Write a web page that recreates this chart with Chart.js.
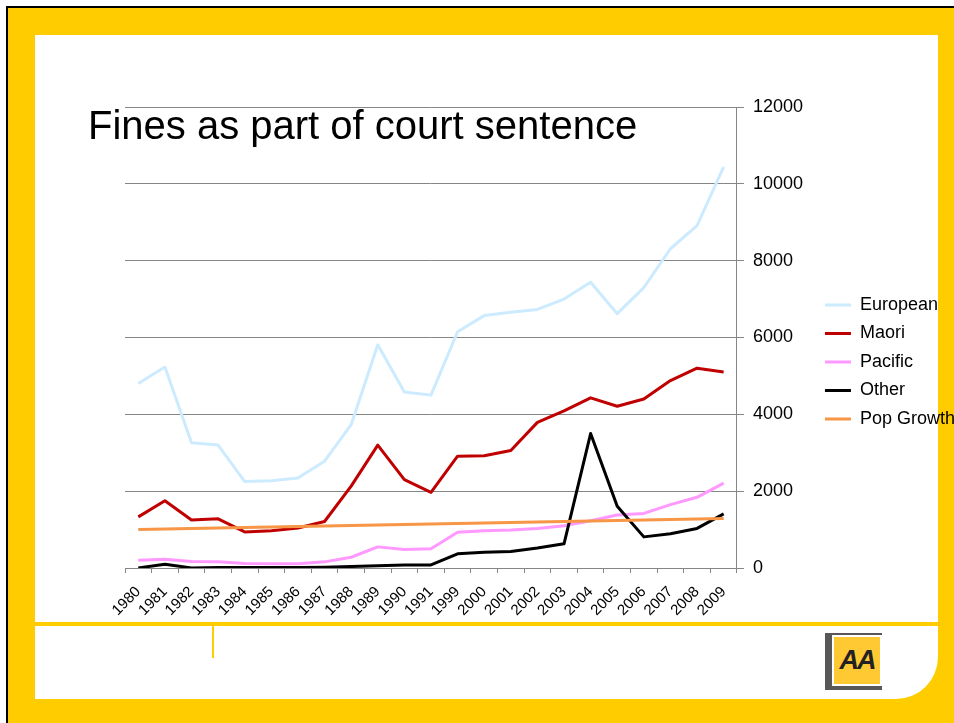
<!DOCTYPE html>
<html>
<head>
<meta charset="utf-8">
<script src="https://cdn.jsdelivr.net/npm/chart.js@4.4.1/dist/chart.umd.min.js"></script>
<style>
  html, body { margin: 0; padding: 0; background: #fff; overflow: hidden; width: 954px; height: 723px; }
  .frame { position: absolute; left: 6px; top: 6px; width: 960px; height: 730px; background: #FFCC00;
           border-left: 2px solid #000; border-top: 2px solid #000; }
  .panel { position: absolute; left: 35px; top: 35px; width: 903px; height: 664px; background: #fff;
           border-bottom-right-radius: 42px; }
  .sep { position: absolute; left: 35px; top: 622px; width: 903px; height: 4px; background: #FFCC00; }
  .tick { position: absolute; left: 212px; top: 626px; width: 2px; height: 32px; background: #FFCC00; }
  .logo { position: absolute; left: 825px; top: 633px; width: 57px; height: 57px; background: #58585a; }
  .logo div { position: absolute; left: 7px; top: 2px; width: 46px; height: 47px; background: #FFC933;
              border: 2px solid #fff; font: italic bold 27px "Liberation Sans", Arial, sans-serif;
              color: #222; text-align: center; line-height: 47px; letter-spacing: -2px; }
  .title { position: absolute; left: 88px; top: 105px; font: 40px/1 "Liberation Sans", Arial, sans-serif;
           color: #000; white-space: nowrap; z-index: 2; }
  canvas { position: absolute; left: 0; top: 0; z-index: 1; }
</style>
</head>
<body>
<div class="frame"></div>
<div class="panel"></div>
<div class="sep"></div>
<div class="tick"></div>
<div class="logo"><div>AA</div></div>
<canvas id="finesChart" width="965" height="723"></canvas>
<div class="title">Fines as part of court sentence</div>

<script>
const years = ['1980', '1981', '1982', '1983', '1984', '1985', '1986', '1987', '1988', '1989', '1990', '1991',
               '1999', '2000', '2001', '2002', '2003', '2004', '2005', '2006', '2007', '2008', '2009'];

const european = [4800, 5230, 3260, 3200, 2250, 2270, 2340, 2780, 3730, 5810, 4580, 4500,
                  6150, 6570, 6660, 6730, 7000, 7440, 6620, 7300, 8310, 8910, 10440];
const maori = [1330, 1750, 1250, 1280, 940, 970, 1040, 1210, 2130, 3200, 2300, 1970,
               2910, 2920, 3060, 3790, 4090, 4430, 4210, 4400, 4880, 5200, 5100];
const pacific = [200, 230, 170, 160, 120, 110, 110, 160, 280, 550, 480, 500,
                 930, 970, 990, 1030, 1100, 1230, 1380, 1420, 1650, 1840, 2210];
const other = [0, 100, 0, 10, 10, 10, 10, 20, 40, 60, 80, 80,
               370, 410, 430, 520, 630, 3500, 1610, 810, 890, 1030, 1410];
const popGrowth = [1000, 1013, 1026, 1039, 1052, 1065, 1078, 1091, 1104, 1117, 1130, 1143,
                   1156, 1169, 1182, 1195, 1208, 1221, 1234, 1247, 1260, 1273, 1286];

const yTicks = [0, 2000, 4000, 6000, 8000, 10000, 12000];

const gridGrey = '#868686';

// one line per series, Excel-ish styling
function series(label, values, color, order) {
    return {
        label: label,
        data: values,
        borderColor: color,
        backgroundColor: color,
        borderWidth: 3,
        pointRadius: 0,
        tension: 0,
        borderJoinStyle: 'round',
        order: order
    };
}

const data = {
    labels: years,
    datasets: [
        series('European', european, '#CCEBFF', 5),
        series('Maori', maori, '#C00000', 4),
        series('Pacific', pacific, '#FF99FF', 3),
        series('Other', other, '#000000', 2),
        series('Pop Growth', popGrowth, '#F79646', 1)
    ]
};

const config = {
    type: 'line',
    data: data,
    options: {
        responsive: false,
        animation: false,
        layout: {
            padding: { left: 125, top: 107, right: 0, bottom: 106 }
        },
        scales: {
            x: {
                type: 'category',
                offset: true,
                grid: {
                    offset: true,
                    drawOnChartArea: false,
                    tickLength: 5,
                    color: gridGrey
                },
                border: { color: gridGrey },
                ticks: {
                    autoSkip: false,
                    minRotation: 45,
                    maxRotation: 45,
                    padding: 10,
                    color: '#000',
                    font: { family: '"Liberation Sans", Arial, sans-serif', size: 15 }
                },
                afterFit: function(scale) { scale.height = 49; }
            },
            y: {
                position: 'right',
                min: 0,
                max: 12000,
                grid: { color: gridGrey, tickLength: 7 },
                border: { color: gridGrey },
                afterBuildTicks: function(scale) {
                    scale.ticks = yTicks.map(v => ({ value: v }));
                },
                ticks: {
                    padding: 9,
                    color: '#000',
                    font: { family: '"Liberation Sans", Arial, sans-serif', size: 18 },
                    callback: function(value) { return String(value); }
                },
                afterFit: function(scale) { scale.width = 77.5; }
            }
        },
        plugins: {
            legend: {
                position: 'right',
                align: 'center',
                labels: {
                    boxWidth: 26,
                    boxHeight: 3,
                    padding: 10.5,
                    color: '#000',
                    font: { family: '"Liberation Sans", Arial, sans-serif', size: 18 },
                    sort: (a, b) => a.datasetIndex - b.datasetIndex,
                    generateLabels: function(chart) {
                        const items = Chart.defaults.plugins.legend.labels.generateLabels(chart);
                        return items.map(item => Object.assign(item, { lineWidth: 0 }));
                    }
                }
            },
            tooltip: { enabled: false }
        }
    }
};

window.onload = function() {
    const ctx = document.getElementById('finesChart').getContext('2d');
    new Chart(ctx, config);
};
</script>
</body>
</html>
